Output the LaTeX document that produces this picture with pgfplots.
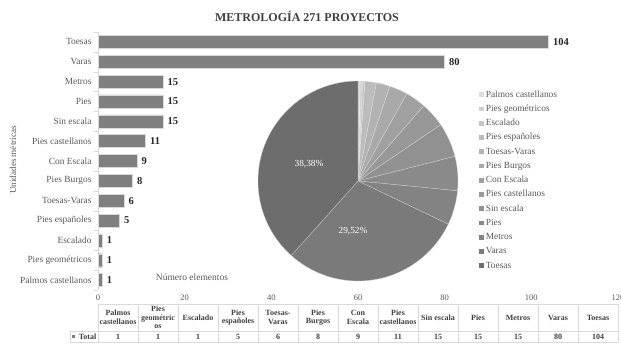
\documentclass[border=0pt]{standalone}
\usepackage{pgfplots}
\pgfplotsset{compat=1.18}
\usepackage{pgfplotstable}
\usepackage{fontspec}
\setmainfont{Liberation Serif}
\definecolor{txt}{HTML}{595959}
\definecolor{dark}{HTML}{404040}
\definecolor{barc}{HTML}{7F7F7F}
\definecolor{gridc}{HTML}{D9D9D9}
\definecolor{piecol0}{HTML}{DCDCDC}
\definecolor{piecol1}{HTML}{D0D0D0}
\definecolor{piecol2}{HTML}{C6C6C6}
\definecolor{piecol3}{HTML}{BCBCBC}
\definecolor{piecol4}{HTML}{B2B2B2}
\definecolor{piecol5}{HTML}{A9A9A9}
\definecolor{piecol6}{HTML}{A0A0A0}
\definecolor{piecol7}{HTML}{989898}
\definecolor{piecol8}{HTML}{919191}
\definecolor{piecol9}{HTML}{8A8A8A}
\definecolor{piecol10}{HTML}{838383}
\definecolor{piecol11}{HTML}{7A7A7A}
\definecolor{piecol12}{HTML}{6D6D6D}

\pgfplotstableread[col sep=comma]{
idx,label,value
0,Palmos castellanos,1
1,Pies geométricos,1
2,Escalado,1
3,Pies españoles,5
4,Toesas-Varas,6
5,Pies Burgos,8
6,Con Escala,9
7,Pies castellanos,11
8,Sin escala,15
9,Pies,15
10,Metros,15
11,Varas,80
12,Toesas,104
}\bardata

\begin{document}
\begin{tikzpicture}
\useasboundingbox (0,0) rectangle (621pt,-343pt);
\node[font=\fontsize{12}{14}\selectfont\bfseries, text=dark] at (307pt,-16pt) {METROLOGÍA 271 PROYECTOS};

\begin{axis}[
  at={(98pt,-290pt)}, anchor=south west,
  width=520pt, height=258pt, scale only axis,
  xbar, bar width=13pt, bar shift=0pt,
  xmin=0, xmax=120, ymin=-0.5, ymax=12.5,
  xtick={0,20,...,120},
  ytick={0,...,12},
  yticklabels from table={\bardata}{label},
  minor ytick={-0.5,0.5,...,12.5},
  axis lines*=left,
  x axis line style={draw=none,-},
  y axis line style={draw=gridc,-},
  major tick length=0pt, minor tick length=4pt,
  tick align=outside,
  minor tick style={draw=gridc},
  ticklabel style={text=txt},
  yticklabel style={font=\fontsize{9.4}{11}\selectfont, xshift=-3pt},
  xticklabel style={font=\fontsize{8.5}{10}\selectfont, yshift=-1pt},
  /pgf/number format/assume math mode=true,
  nodes near coords,
  nodes near coords style={font=\fontsize{10.5}{12}\selectfont\bfseries, text=black!85, anchor=west, xshift=1pt},
  clip=false,
]
\addplot[fill=barc, draw=white!70!barc, line width=0.4pt] table[x=value, y=idx]{\bardata};
\end{axis}

\node[font=\fontsize{9.5}{11}\selectfont, text=txt] at (192pt,-277pt) {Número elementos};
\node[font=\fontsize{9.1}{11}\selectfont, text=txt, rotate=90] at (13pt,-160pt) {Unidades métricas};

\begin{axis}[
  at={(358pt,-181pt)}, anchor=center,
  width=200pt, height=200pt, scale only axis,
  xmin=-1, xmax=1, ymin=-1, ymax=1,
  hide axis, clip=false,
  legend style={at={(1.09,0.965)}, anchor=north west, draw=none, fill=none,
    font=\fontsize{9.4}{11}\selectfont, text=txt, row sep=5.25pt, column sep=2pt,
    nodes={inner sep=0pt, text height=7pt, text depth=2pt}},
  legend cell align=left,
  legend image code/.code={\fill[#1, draw=none] (0pt,-2.3pt) rectangle (4.6pt,2.3pt);},
]
\pgfplotstablegetrowsof{\bardata}
\pgfmathtruncatemacro\N{\pgfplotsretval-1}
\def\total{0}
\pgfplotsforeachungrouped \i in {0,...,\N}{%
  \pgfplotstablegetelem{\i}{value}\of\bardata
  \pgfmathsetmacro\total{\total+\pgfplotsretval}%
}
\def\cum{0}
\pgfplotsforeachungrouped \i in {0,...,\N}{%
  \pgfplotstablegetelem{\i}{value}\of\bardata
  \let\v\pgfplotsretval
  \pgfmathsetmacro\aone{90-\cum/\total*360}%
  \pgfmathsetmacro\atwo{90-(\cum+\v)/\total*360}%
  \pgfmathsetmacro\cum{\cum+\v}%
  \edef\temp{\noexpand\fill[piecol\i, draw=white!60!piecol\i, line width=0.3pt] (axis cs:0,0) -- ++(\aone:100pt) arc[start angle=\aone, end angle=\atwo, radius=100pt] -- cycle;}%
  \temp
  \pgfplotstablegetelem{\i}{label}\of\bardata
  \edef\temp{\noexpand\addlegendimage{fill=piecol\i, draw=none}\noexpand\addlegendentry{\pgfplotsretval}}%
  \temp
}
\node[text=white, font=\fontsize{9.3}{11}\selectfont] at (axis cs:-0.49,0.17) {38,38\%};
\node[text=white, font=\fontsize{9.3}{11}\selectfont] at (axis cs:-0.05,-0.50) {29,52\%};
\end{axis}

% data table
\draw[gridc, line width=0.5pt] (98pt,-304pt) -- (618pt,-304pt);
\draw[gridc, line width=0.5pt] (70pt,-331pt) -- (618pt,-331pt);
\draw[gridc, line width=0.5pt] (70pt,-342pt) -- (618pt,-342pt);
\draw[gridc, line width=0.5pt] (70pt,-331pt) -- (70pt,-342pt);
\foreach \j in {0,...,13}{\draw[gridc, line width=0.5pt] ({(98+40*\j)*1pt},-304pt) -- ({(98+40*\j)*1pt},-342pt);}
\foreach \h [count=\j from 0] in {{Palmos\\castellanos},{Pies\\geométric\\os},{Escalado},{Pies\\españoles},{Toesas-\\Varas},{Pies\\Burgos},{Con\\Escala},{Pies\\castellanos},{Sin escala},{Pies},{Metros},{Varas},{Toesas}}{
  \node[align=center, font=\fontsize{8}{8.6}\selectfont\bfseries, text=dark, inner sep=0pt] at ({(118+40*\j)*1pt},-317.5pt) {\h};
}
\foreach \j in {0,...,12}{
  \pgfplotstablegetelem{\j}{value}\of\bardata
  \node[font=\fontsize{8}{9}\selectfont\bfseries, text=dark, inner sep=0pt] at ({(118+40*\j)*1pt},-336.5pt) {\pgfplotsretval};
}
\fill[barc] (72pt,-335pt) rectangle (75pt,-338pt);
\node[font=\fontsize{8}{9}\selectfont\bfseries, text=dark, inner sep=0pt, anchor=east] at (96.5pt,-336.5pt) {Total};
\end{tikzpicture}
\end{document}
